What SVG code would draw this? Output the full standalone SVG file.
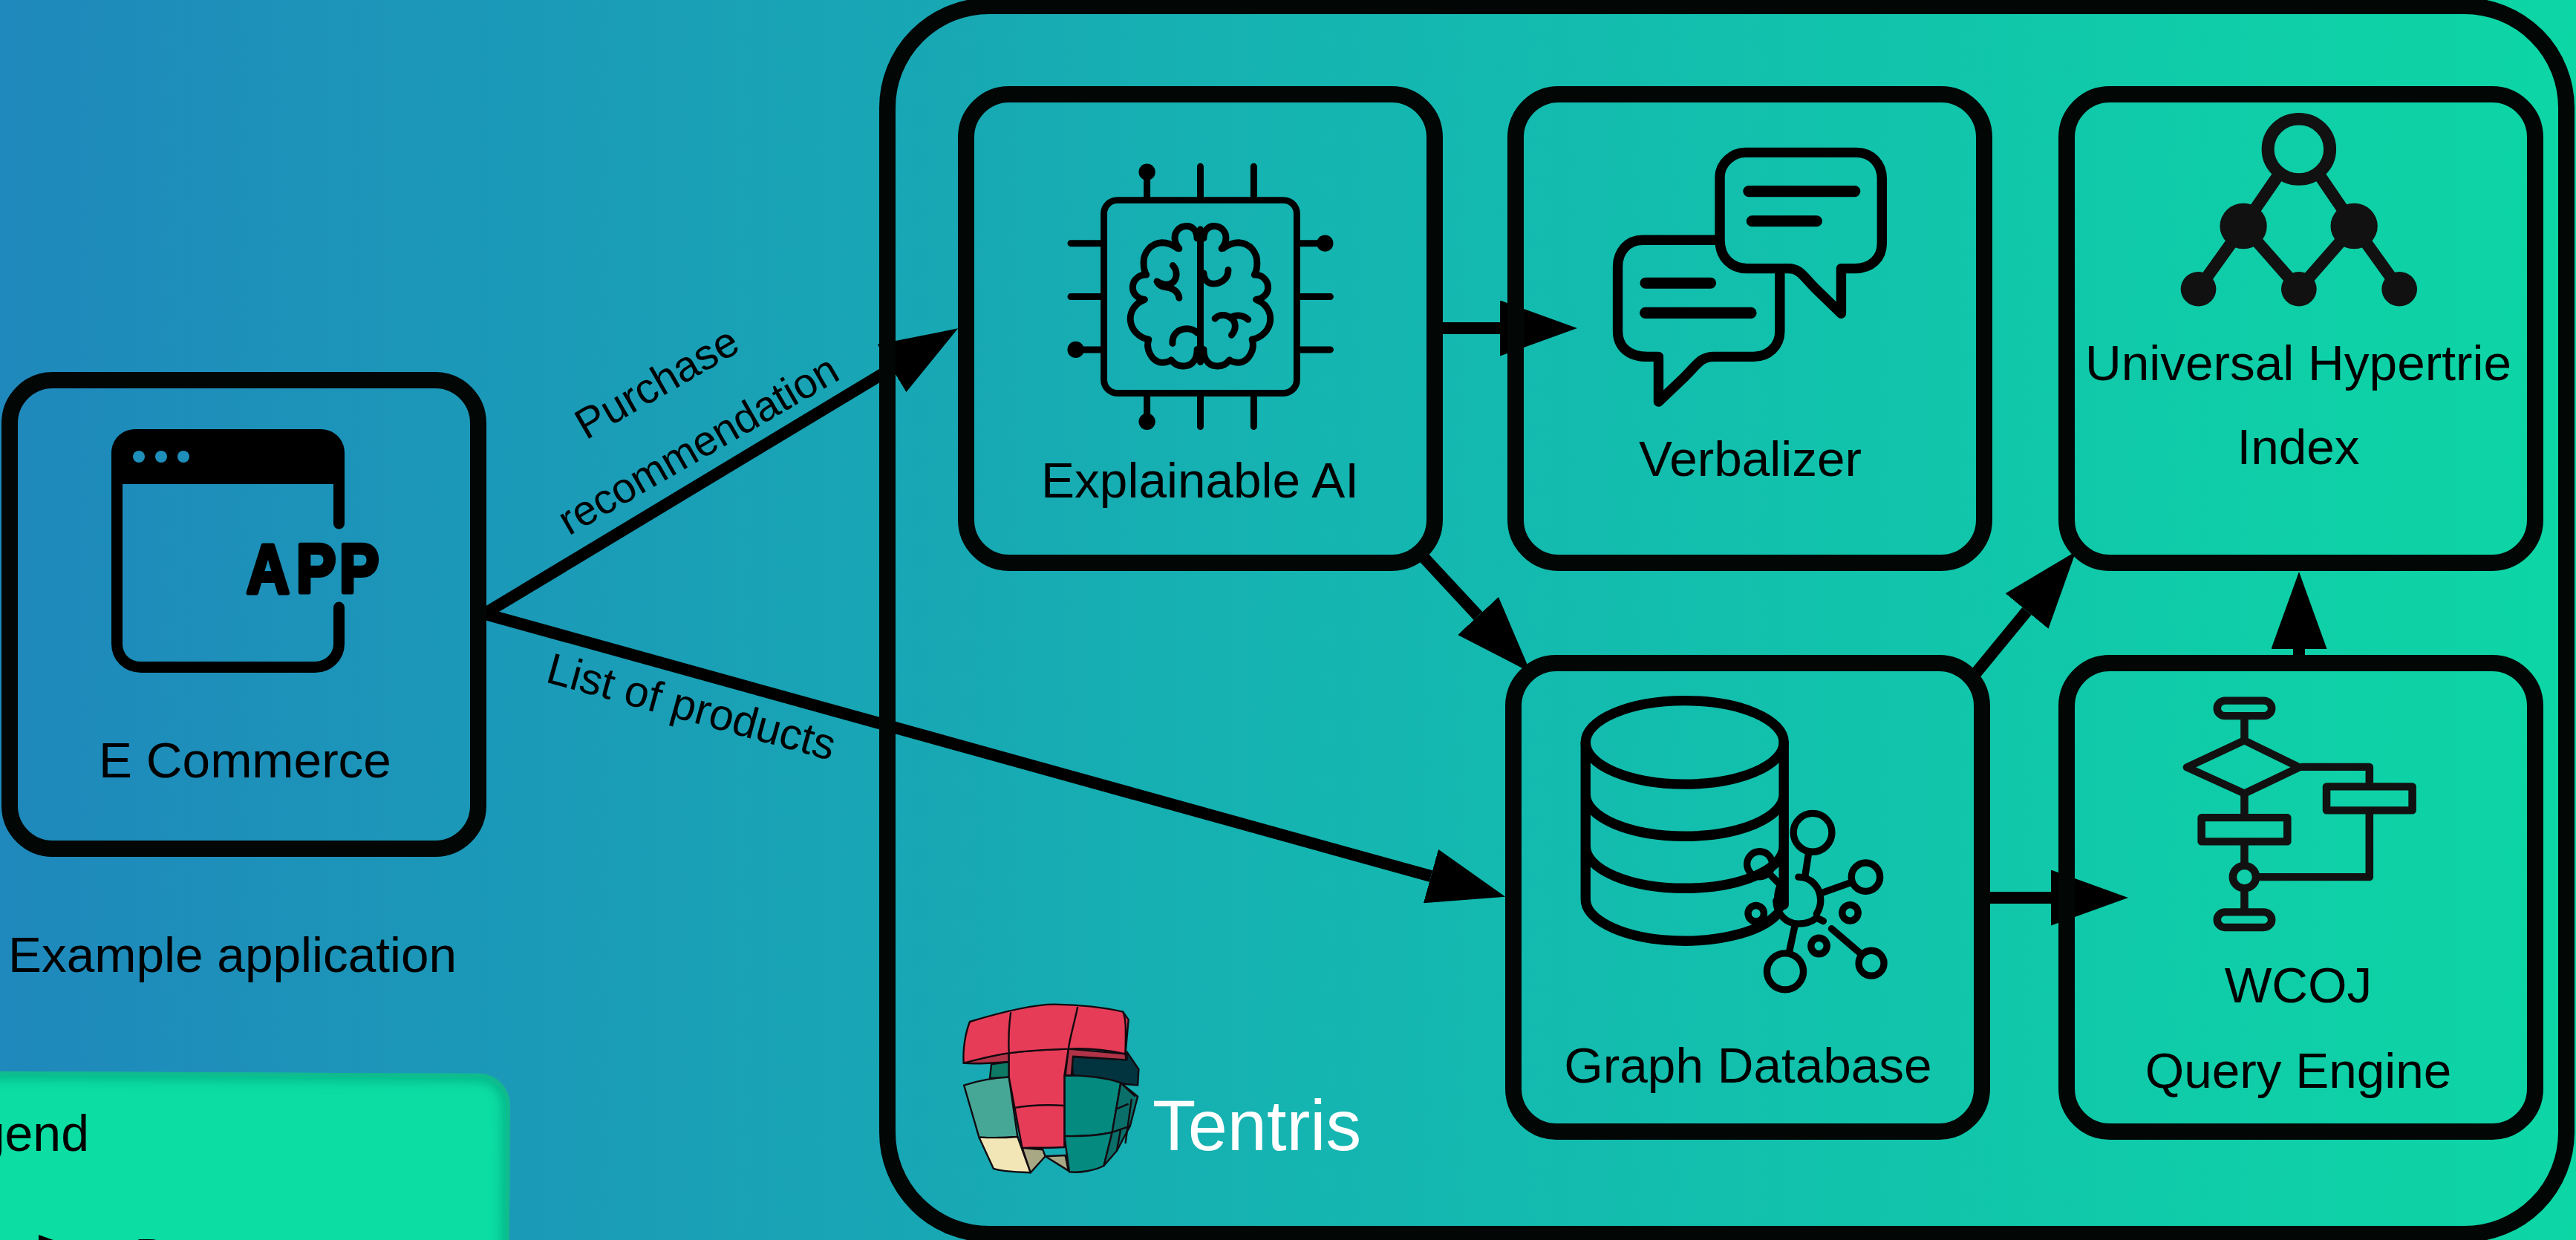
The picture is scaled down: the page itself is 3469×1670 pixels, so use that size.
<svg xmlns="http://www.w3.org/2000/svg" width="3469" height="1670" viewBox="0 0 3469 1670">
<style>
text{font-family:"Liberation Sans",Arial,sans-serif;fill:#000}
.lb{font-size:67.5px;text-anchor:middle}
.el{font-size:57.500px}
.box{fill:none;stroke:#020706;stroke-width:22}
.c{fill:none;stroke:#000;stroke-width:16;marker-end:url(#ah)}
.ic{fill:none;stroke:#000;stroke-linecap:round;stroke-linejoin:round}
.fl{fill:none;stroke:#111;stroke-width:23;stroke-linejoin:round}
.lg path{stroke:#120a10;stroke-width:2.4;stroke-linejoin:round;vector-effect:non-scaling-stroke}
</style>
<defs>
<linearGradient id="bg" gradientUnits="userSpaceOnUse" x1="0" y1="0" x2="3469" y2="0">
<stop offset="0" stop-color="#1f88bc"/><stop offset="0.5" stop-color="#15b4b1"/><stop offset="1" stop-color="#0dd6a5"/>
</linearGradient>
<marker id="ah" markerUnits="userSpaceOnUse" markerWidth="104" markerHeight="75" refX="0" refY="37.5" orient="auto"><path d="M0 0L104 37.5L0 75Z" fill="#000"/></marker>
<clipPath id="lgc"><rect x="-100" y="1446" width="787" height="400" rx="42"/></clipPath>
<filter id="bl" x="-10%" y="-10%" width="120%" height="120%"><feGaussianBlur stdDeviation="9"/></filter>
<g id="lobe">
<path d="M811 495C811 470 795 458 780 458C758 458 742 475 744 497C745 510 750 518 757 526M752 525C735 512 720 508 705 508C670 510 648 540 650 572C650 585 652 595 658 605C630 605 616 625 617 645C618 665 635 678 653 680C625 690 608 715 610 742C612 770 635 795 665 800C655 830 675 868 705 870C715 870 725 868 733 862C745 878 760 882 775 880C800 878 812 855 811 830"/>
</g>
</defs>
<rect id="background" width="3469" height="1670" fill="url(#bg)"/>
<g id="legend">
<g transform="rotate(.27 687 1447)">
<rect x="-100" y="1446" width="787" height="400" rx="42" fill="#0bdda3"/>
<g clip-path="url(#lgc)"><rect x="-100" y="1446" width="787" height="400" rx="42" fill="none" stroke="#09a07c" stroke-width="14" filter="url(#bl)"/></g>
</g>
<text x="120" y="1550" font-size="68" text-anchor="end">Legend</text>
<path d="M52 1663L156 1700L52 1737Z" fill="#000"/>
<text x="181" y="1715" font-size="67">D</text>
</g>
<g id="connectors">
<line class="c" x1="650" y1="828" x2="1201" y2="496"/>
<line class="c" x1="650" y1="826" x2="1927" y2="1180"/>
<line class="c" x1="1943" y1="442" x2="2020" y2="442"/>
<line class="c" x1="1912" y1="745" x2="1990.5" y2="829.5"/>
<line class="c" x1="2658" y1="910" x2="2729.5" y2="823"/>
<line class="c" x1="2680" y1="1209" x2="2762" y2="1209"/>
<line class="c" x1="3096" y1="882" x2="3096" y2="874"/>
<text class="el" transform="translate(789 593) rotate(-30)">Purchase</text>
<text class="el" style="font-size:57px" transform="translate(766 722) rotate(-30)">recommendation</text>
<text class="el" style="font-size:59px" transform="translate(733 918) rotate(15.4)">List of products</text>
</g>
<g id="ecommerce">
<rect class="box" x="13" y="512" width="631" height="631" rx="58"/>
<path d="M150 652V610C150 592 164 578 182 578H432C450 578 464 592 464 610V652Z" fill="#000"/>
<path d="M157.500 640V867C157.500 885 171 898.500 190 898.500H424C442 898.500 456.500 885 456.500 867V818" class="ic" stroke-width="15"/>
<path d="M456.500 640V705" class="ic" stroke-width="15"/>
<circle cx="187" cy="615" r="8" fill="#1e8fbb"/><circle cx="217" cy="615" r="8" fill="#1e8fbb"/><circle cx="247" cy="615" r="8" fill="#1e8fbb"/>
<text transform="translate(0 798) scale(1 1.17)" font-size="80" font-weight="700" stroke="#000" stroke-width="5" stroke-linejoin="round"><tspan x="332">A</tspan><tspan x="399">P</tspan><tspan x="457">P</tspan></text>
<text class="lb" x="330" y="1047">E Commerce</text>
<text x="11" y="1309" font-size="67.500">Example application</text>
</g>
<g id="tentris">
<rect class="box" x="1195" y="8" width="2261" height="1654" rx="137"/>
<g class="lg" transform="translate(1250 1320) scale(.4149 .3333)">
<path d="M465 310L645 322L645 290L683 360L680 425L640 420L470 385Z" fill="#02343f"/>
<path d="M205 340L262 330L262 392L200 397Z" fill="#0d7a66"/>
<path d="M305 678L372 685L380 712L445 708L455 770L380 712L332 778Z" fill="#a8a884"/>
<path d="M116 425C165 405 210 395 262 392L290 633C250 637 200 637 165 635Z" fill="#47a796"/>
<path d="M165 635C200 637 250 637 290 633L332 778C290 775 240 775 212 762Z" fill="#f2e6b6"/>
<path d="M442 385C510 385 580 395 625 415L597 615C560 625 500 632 442 630Z" fill="#048a7f"/>
<path d="M442 630C500 632 560 625 597 615L570 750C540 770 490 780 458 775Z" fill="#048a7f"/>
<path d="M625 415L680 470L655 590L612 690L570 750L597 615Z" fill="#0a6f68"/>
<path d="M625 415L672 470M612 520L650 500M597 615L655 590M612 690L625 600M640 660L660 480" fill="none"/>
<path d="M115 335C160 320 220 300 262 295L262 330C210 335 150 340 115 335Z" fill="#b03347"/>
<path d="M455 278L640 298L642 322L470 308L465 385L445 385Z" fill="#b03347"/>
<path d="M262 295C320 285 400 280 455 278L442 385L442 675C390 680 330 675 305 678L262 392Z" fill="#e73c58"/>
<path d="M135 168C250 125 350 98 410 98C490 100 570 110 632 128L650 160L640 298C570 280 500 275 455 278C400 280 320 285 262 295C220 300 160 320 115 335C112 280 120 215 135 168Z" fill="#e73c58"/>
<path d="M268 130C262 180 260 240 262 295M485 108C475 170 462 220 455 278M275 517C330 505 390 503 440 507M632 128C645 160 640 240 640 298" fill="none"/>
</g>
<text x="1552" y="1549" font-size="95.500" style="fill:#fff">Tentris</text>
</g>
<g id="explainable-ai">
<rect class="box" x="1301" y="127" width="631" height="631" rx="58"/>
<g transform="translate(1250 100) scale(.4464)">
<g class="ic" stroke-width="20">
<rect x="530" y="380" width="582" height="582" rx="40"/>
<path d="M660 370V295M821 370V278M982 370V278M660 972V1048M821 972V1063M982 972V1063M520 510H430M520 671H430M520 831H445M1122 510H1197M1122 671H1213M1122 831H1213"/>
<path d="M821 468V868"/>
<use href="#lobe"/>
<use href="#lobe" transform="translate(1642 0) scale(-1 1)"/>
<path d="M738 577C752 592 752 615 738 628C722 640 700 632 690 625C700 645 715 640 730 645C745 650 755 660 757 675M737 812C735 785 755 768 780 768C795 768 806 775 811 780M905 590C905 620 880 632 860 632C845 632 832 622 831 600M865 737C880 722 900 725 912 735C925 725 950 725 965 740M912 735C930 745 930 770 915 787"/>
</g>
<circle cx="660" cy="295" r="25"/><circle cx="660" cy="1048" r="25"/><circle cx="445" cy="831" r="25"/><circle cx="1197" cy="510" r="25"/>
</g>
<text class="lb" x="1616" y="670">Explainable AI</text>
</g>
<g id="verbalizer">
<rect class="box" x="2041" y="127" width="631" height="631" rx="58"/>
<g transform="translate(2000 100) scale(.4464)">
<g class="ic" stroke-width="30" stroke-linecap="butt" stroke-linejoin="miter" stroke-miterlimit="10">
<path d="M708 500V310C708 270 745 236 785 236H1120C1165 236 1197 270 1197 315V510C1197 555 1165 586 1115 586H1074V722L1000 650C960 610 950 586 915 586H790C745 586 708 555 708 500Z"/>
<path d="M700 500H475C430 500 400 535 400 580V775C400 820 430 852 490 852H523V988L600 915C640 875 650 852 690 852H810C855 852 889 820 889 775V590"/>
</g>
<path class="ic" stroke-width="34" d="M795 353H1115M805 443H1000M484 630H680M483 720H802"/>
</g>
<text class="lb" x="2357" y="641">Verbalizer</text>
</g>
<g id="graph-database">
<rect class="box" x="2038" y="893" width="631" height="631" rx="58"/>
<g transform="translate(2000 870) scale(.4464)">
<g class="ic" stroke-width="30">
<ellipse cx="602" cy="291" rx="299" ry="126"/>
<path d="M303 291V762A299 126 0 0 0 880 810M901 291V780M303 448A299 126 0 0 0 901 448M303 605A299 126 0 0 0 901 605"/>
</g>
<g class="ic" stroke-width="21">
<circle cx="988" cy="563" r="58"/><circle cx="1148" cy="697" r="43"/><circle cx="1165" cy="957" r="38"/><circle cx="905" cy="982" r="55"/><circle cx="828" cy="658" r="38"/>
<circle cx="817" cy="807" r="24"/><circle cx="1101" cy="805" r="24"/><circle cx="1007" cy="905" r="24"/>
<path d="M945 697C985 697 1012 730 1012 768C1012 780 1008 795 1000 808M1000 820L1020 830M1000 820C985 832 965 838 945 838C905 838 878 805 878 768"/>
<path d="M975 630L965 695M1015 745L1100 715M1045 853L1135 930M935 840L918 920M860 690L885 715"/>
</g>
<path d="M880 720C868 745 868 785 885 812L908 790V715Z" fill="#000"/>
</g>
<text class="lb" x="2354" y="1458">Graph Database</text>
</g>
<g id="wcoj">
<rect class="box" x="2783" y="893" width="631" height="631" rx="58"/>
<g transform="translate(2750 870) scale(.4587 .4464)">
<rect class="fl" x="514" y="165" width="160" height="46" rx="23"/>
<rect class="fl" x="514" y="803" width="160" height="46" rx="23"/>
<path class="fl" d="M594 222V280M425 366L594 285L755 366L594 445ZM594 445V510M594 590V655M594 740V795M760 365H961V420M961 496V697H635"/>
<rect class="fl" x="468" y="518" width="252" height="72"/>
<rect class="fl" x="835" y="424" width="252" height="72"/>
<circle class="fl" cx="594" cy="697" r="34"/>
</g>
<text class="lb" x="3095" y="1350">WCOJ</text>
<text class="lb" x="3095" y="1465">Query Engine</text>
</g>
<g id="universal-hypertrie">
<rect class="box" x="2783" y="127" width="631" height="631" rx="58"/>
<g transform="translate(2750 100) scale(.4587 .4464)">
<path d="M690 310L591 458L459 648M818 310L916 458L1049 648M591 458L754 648L916 458" fill="none" stroke="#111" stroke-width="36"/>
<circle cx="754" cy="226" r="91" fill="none" stroke="#111" stroke-width="37"/>
<g fill="#111"><circle cx="591" cy="458" r="69"/><circle cx="916" cy="458" r="69"/><circle cx="459" cy="648" r="52"/><circle cx="754" cy="648" r="52"/><circle cx="1049" cy="648" r="52"/></g>
</g>
<text class="lb" x="3095" y="512">Universal Hypertrie</text>
<text class="lb" x="3095" y="625">Index</text>
</g>
</svg>
